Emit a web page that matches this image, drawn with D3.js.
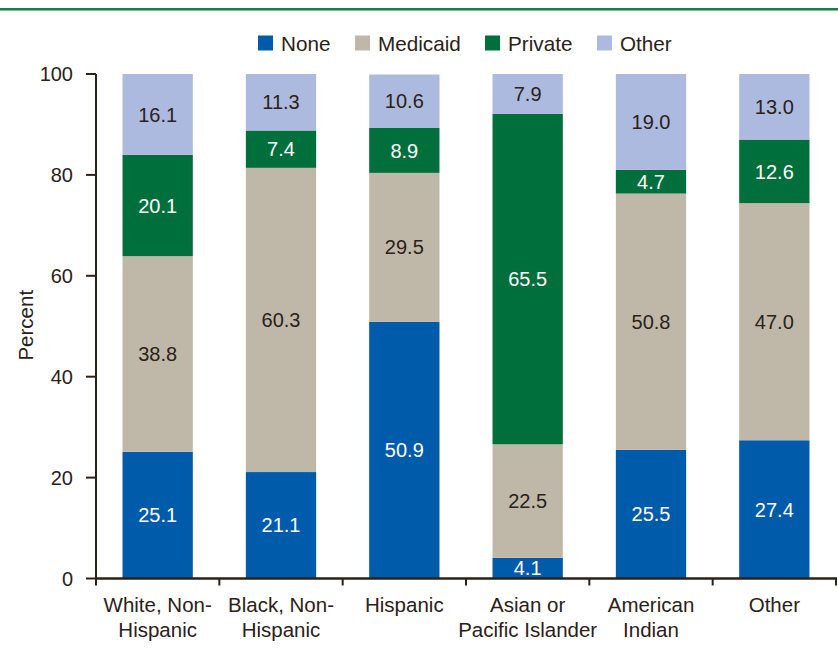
<!DOCTYPE html>
<html><head><meta charset="utf-8">
<script src="https://cdn.jsdelivr.net/npm/d3@7"></script>
<style>body{margin:0;background:#fff;}svg{display:block;font-family:"Liberation Sans",Arial,sans-serif;}</style>
</head><body>
<svg id="c" width="838" height="654"></svg>
<script>
const categories = [["White, Non-","Hispanic"],["Black, Non-","Hispanic"],["Hispanic"],["Asian or","Pacific Islander"],["American","Indian"],["Other"]];
const seriesNames = ["None","Medicaid","Private","Other"];
const noneVals = [25.1,21.1,50.9,4.1,25.5,27.4];
const medicaidVals = [38.8,60.3,29.5,22.5,50.8,47.0];
const privateVals = [20.1,7.4,8.9,65.5,4.7,12.6];
const otherVals = [16.1,11.3,10.6,7.9,19.0,13.0];
const yTicks = [0,20,40,60,80,100];

const colors = ["#005baa","#bfb8a9","#006f3c","#abbade"];
const labelColors = ["#ffffff","#2b2118","#ffffff","#2b2118"];
const ink = "#2b2118";
const svg = d3.select("#c");

svg.append("rect").attr("x",0).attr("y",8).attr("width",838).attr("height",2.5).attr("fill","#1b7a4a");

const x = d3.scaleBand().domain(d3.range(categories.length)).range([96,836]).paddingInner(0.43).paddingOuter(0.215);
const y = d3.scaleLinear().domain([0,100]).range([578.5,74]);

const vals = [noneVals,medicaidVals,privateVals,otherVals];
const rows = categories.map((c,i)=>{const r={i}; seriesNames.forEach((s,k)=>r[s]=vals[k][i]); return r;});
const stack = d3.stack().keys(seriesNames)(rows);

stack.forEach((layer,k)=>{
  const g = svg.append("g");
  layer.forEach((d,i)=>{
    const top = Math.min(d[1],100);
    g.append("rect").attr("x",x(i)).attr("width",x.bandwidth())
      .attr("y",y(top)).attr("height",y(d[0])-y(top)).attr("fill",colors[k]);
    g.append("text").attr("x",x(i)+x.bandwidth()/2).attr("y",(y(d[0])+y(top))/2)
      .attr("dy","0.36em").attr("text-anchor","middle").attr("font-size",20)
      .attr("fill",labelColors[k]).text(vals[k][i].toFixed(1));
  });
});

// y axis
const ya = svg.append("g");
ya.append("line").attr("x1",96).attr("x2",96).attr("y1",y(100)).attr("y2",y(0)+1).attr("stroke",ink).attr("stroke-width",2);
yTicks.forEach(t=>{
  ya.append("line").attr("x1",86).attr("x2",96).attr("y1",y(t)).attr("y2",y(t)).attr("stroke",ink).attr("stroke-width",2);
  ya.append("text").attr("x",73).attr("y",y(t)).attr("dy","0.36em").attr("text-anchor","end").attr("font-size",20).attr("fill",ink).text(t);
});
svg.append("text").attr("transform","translate(33,"+(y(50)-1)+") rotate(-90)").attr("text-anchor","middle").attr("font-size",20.5).attr("fill",ink).text("Percent");

// x axis
const xa = svg.append("g");
xa.append("line").attr("x1",95).attr("x2",837).attr("y1",y(0)).attr("y2",y(0)).attr("stroke",ink).attr("stroke-width",2.5);
const step = x.step();
d3.range(categories.length+1).forEach(i=>{
  const xx = 96 + i*step;
  xa.append("line").attr("x1",xx).attr("x2",xx).attr("y1",y(0)).attr("y2",y(0)+7).attr("stroke",ink).attr("stroke-width",2);
});
categories.forEach((c,i)=>{
  const t = xa.append("text").attr("text-anchor","middle").attr("font-size",20.5).attr("fill",ink);
  c.forEach((line,j)=>t.append("tspan").attr("x",x(i)+x.bandwidth()/2).attr("y",612+j*25).text(line));
});

// legend
const legX = [258,355,485,597];
seriesNames.forEach((s,k)=>{
  svg.append("rect").attr("x",legX[k]).attr("y",35.5).attr("width",15).attr("height",15).attr("fill",colors[k]);
  svg.append("text").attr("x",legX[k]+23).attr("y",50.5).attr("font-size",20.7).attr("fill",ink).text(s);
});
</script>
</body></html>
